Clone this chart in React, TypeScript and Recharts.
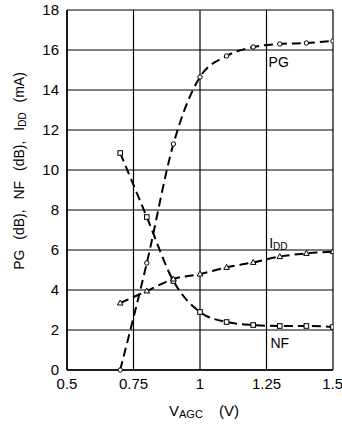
import { ComposedChart, Line, XAxis, YAxis, CartesianGrid, ReferenceDot } from "recharts";

const vagc = [0.7, 0.8, 0.9, 1.0, 1.1, 1.2, 1.3, 1.4, 1.5];
const pg = [0, 5.35, 11.3, 14.65, 15.7, 16.15, 16.3, 16.35, 16.45];
const nf = [10.85, 7.65, 4.45, 2.9, 2.4, 2.25, 2.2, 2.2, 2.15];
const idd = [3.35, 3.95, 4.55, 4.8, 5.13, 5.38, 5.67, 5.83, 5.92];
const xTicks = [0.5, 0.75, 1, 1.25, 1.5];
const yTicks = [0, 2, 4, 6, 8, 10, 12, 14, 16, 18];

const data = vagc.map((v, i) => ({ v, pg: pg[i], nf: nf[i], idd: idd[i] }));

const font = "'Liberation Sans', Arial, sans-serif";

const Circle = (p: any) => (
  <circle cx={p.cx} cy={p.cy} r={2.2} fill="#fff" stroke="#000" strokeWidth={1} />
);
const Square = (p: any) => (
  <rect x={p.cx - 2.3} y={p.cy - 2.3} width={4.6} height={4.6} fill="#fff" stroke="#000" strokeWidth={1} />
);
const Tri = (p: any) => (
  <polygon
    points={`${p.cx},${p.cy - 3} ${p.cx - 2.8},${p.cy + 2} ${p.cx + 2.8},${p.cy + 2}`}
    fill="#fff"
    stroke="#000"
    strokeWidth={1}
  />
);

const IddLabel = (p: any) => {
  const { viewBox } = p;
  const x = viewBox.x + (viewBox.width || 0) / 2;
  const y = viewBox.y + (viewBox.height || 0) / 2;
  return (
    <text x={x - 8} y={y + 5} fontSize={14} fontFamily={font} fill="#000">
      I<tspan fontSize={10} dy={2}>DD</tspan>
    </text>
  );
};

export default function App() {
  return (
    <div style={{ position: "absolute", left: 0, top: 0, width: 342, height: 425, background: "#fff" }}>
      <ComposedChart
        width={342}
        height={425}
        data={data}
        margin={{ top: 10, right: 9, left: 0, bottom: 25 }}
      >
        <CartesianGrid stroke="#000" strokeWidth={1.2} />
        <XAxis
          dataKey="v"
          type="number"
          domain={[0.5, 1.5]}
          ticks={xTicks}
          height={30}
          tick={{ fill: "#000", fontSize: 15, fontFamily: font }}
          tickLine={false}
          axisLine={{ stroke: "#000", strokeWidth: 1.5 }}
          allowDataOverflow
        />
        <YAxis
          type="number"
          domain={[0, 18]}
          ticks={yTicks}
          width={67}
          tick={{ fill: "#000", fontSize: 15, fontFamily: font }}
          tickLine={false}
          axisLine={{ stroke: "#000", strokeWidth: 1.5 }}
        />
        <Line
          type="monotone"
          dataKey="pg"
          stroke="#000"
          strokeWidth={2}
          strokeDasharray="9 5"
          dot={<Circle />}
          isAnimationActive={false}
        />
        <Line
          type="monotone"
          dataKey="nf"
          stroke="#000"
          strokeWidth={2}
          strokeDasharray="9 5"
          dot={<Square />}
          isAnimationActive={false}
        />
        <Line
          type="monotone"
          dataKey="idd"
          stroke="#000"
          strokeWidth={2}
          strokeDasharray="9 5"
          dot={<Tri />}
          isAnimationActive={false}
        />
        <ReferenceDot
          x={1.296}
          y={15.4}
          r={0}
          fill="none"
          stroke="none"
          label={{ value: "PG", position: "center", fontSize: 14, fontFamily: font, fill: "#000" }}
        />
        <ReferenceDot
          x={1.3}
          y={1.35}
          r={0}
          fill="none"
          stroke="none"
          label={{ value: "NF", position: "center", fontSize: 14, fontFamily: font, fill: "#000" }}
        />
        <ReferenceDot x={1.29} y={6.35} r={0} fill="none" stroke="none" label={<IddLabel />} />
      </ComposedChart>
      <svg
        width={342}
        height={425}
        style={{ position: "absolute", left: 0, top: 0, pointerEvents: "none" }}
      >
        <text
          transform="translate(24,171) rotate(-90)"
          textAnchor="middle"
          fontSize={14}
          fontFamily={font}
          fill="#000"
          wordSpacing={6}
        >
          PG (dB), NF (dB), I<tspan fontSize={10} dy={2}>DD</tspan>
          <tspan dy={-2}> (mA)</tspan>
        </text>
        <text x={169} y={416} fontSize={15} fontFamily={font} fill="#000" wordSpacing={12}>
          V<tspan fontSize={11} dy={2}>AGC</tspan>
          <tspan dy={-2}> (V)</tspan>
        </text>
      </svg>
    </div>
  );
}
